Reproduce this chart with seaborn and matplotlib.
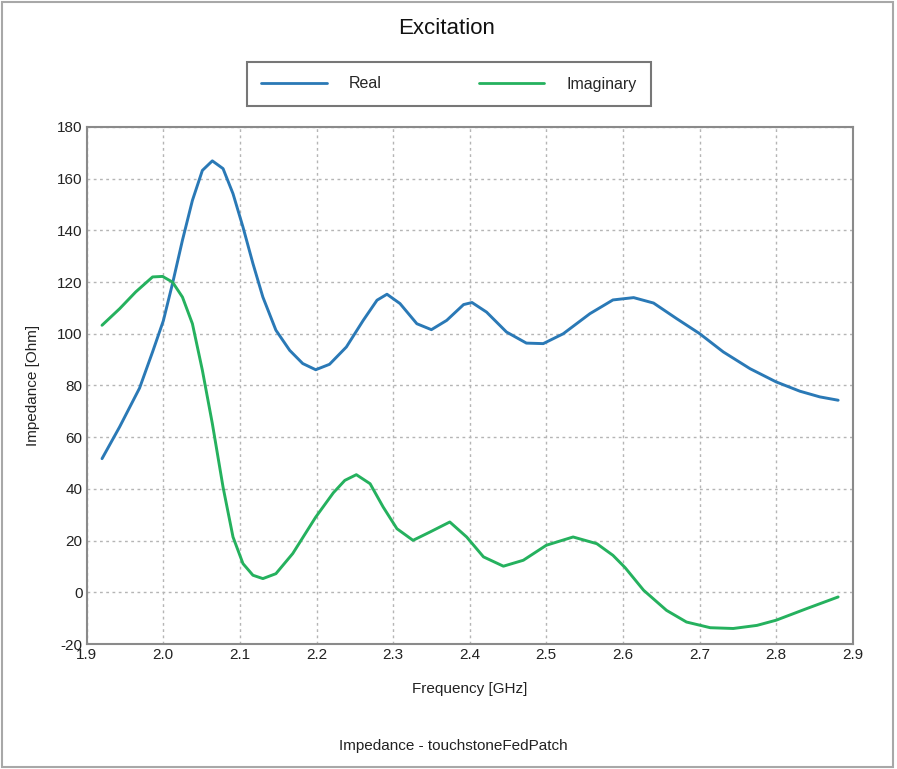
import numpy as np
import pandas as pd
import matplotlib
matplotlib.use("Agg")
import matplotlib.pyplot as plt
from matplotlib.patches import Rectangle
import seaborn as sns

# ---- data ----
freq_real = [1.920, 1.943, 1.969, 1.986, 2.000, 2.012, 2.025, 2.038, 2.051, 2.064, 2.078,
             2.091, 2.104, 2.117, 2.130, 2.147, 2.165, 2.182, 2.199, 2.217, 2.239, 2.261,
             2.279, 2.292, 2.309, 2.331, 2.350, 2.370, 2.392, 2.403, 2.422, 2.448, 2.474,
             2.496, 2.522, 2.557, 2.587, 2.614, 2.640, 2.670, 2.700, 2.731, 2.766, 2.800,
             2.831, 2.857, 2.881]
real = [51.7, 64.0, 79.0, 93.0, 105.0, 119.4, 136.2, 151.6, 163.2, 166.9, 163.9,
        154.2, 141.3, 127.2, 114.2, 101.4, 93.6, 88.5, 86.1, 88.2, 94.9, 105.2,
        113.0, 115.3, 111.7, 103.9, 101.6, 105.2, 111.3, 112.1, 108.4, 100.7, 96.4,
        96.2, 100.0, 107.8, 113.1, 114.0, 111.9, 105.9, 100.1, 93.0, 86.5, 81.4,
        77.8, 75.6, 74.3]

freq_imag = [1.920, 1.943, 1.964, 1.986, 1.999, 2.012, 2.025, 2.038, 2.051, 2.064, 2.078,
             2.091, 2.104, 2.117, 2.130, 2.147, 2.169, 2.199, 2.222, 2.237, 2.252, 2.270,
             2.287, 2.305, 2.326, 2.348, 2.374, 2.396, 2.418, 2.444, 2.470, 2.500, 2.535,
             2.566, 2.587, 2.603, 2.627, 2.657, 2.683, 2.714, 2.744, 2.775, 2.800, 2.840,
             2.881]
imag = [103.3, 109.7, 116.2, 122.0, 122.2, 120.0, 114.2, 103.9, 85.9, 65.3, 40.7,
        21.4, 11.1, 6.6, 5.3, 7.2, 15.0, 29.1, 38.5, 43.3, 45.5, 42.0,
        33.0, 24.6, 20.1, 23.3, 27.2, 21.4, 13.7, 10.1, 12.4, 18.2, 21.4,
        18.8, 14.3, 9.5, 0.8, -7.0, -11.5, -13.7, -14.0, -12.8, -10.8, -6.3,
        -1.8]

series_names = ["Real", "Imaginary"]
x_ticks = [1.9, 2.0, 2.1, 2.2, 2.3, 2.4, 2.5, 2.6, 2.7, 2.8, 2.9]
y_ticks = [-20, 0, 20, 40, 60, 80, 100, 120, 140, 160, 180]

df = pd.concat([
    pd.DataFrame({"Frequency": freq_real, "Impedance": real, "Series": series_names[0]}),
    pd.DataFrame({"Frequency": freq_imag, "Impedance": imag, "Series": series_names[1]}),
], ignore_index=True)

sns.set_style("white")
plt.rcParams["font.family"] = ["Liberation Sans", "DejaVu Sans"]

fig = plt.figure(figsize=(8.97, 7.69), dpi=100)
ax = fig.add_axes([86.7 / 897, 1 - 644 / 769, (852.7 - 86.7) / 897, (644 - 127) / 769])

palette = {"Real": "#2a79b6", "Imaginary": "#25b15e"}
sns.lineplot(data=df, x="Frequency", y="Impedance", hue="Series", palette=palette,
             linewidth=2.1, ax=ax, sort=False, estimator=None, legend=True)
for ln in ax.get_lines():
    ln.set_solid_joinstyle("round")
    ln.set_solid_capstyle("round")

ax.set_xlim(1.9, 2.9)
ax.set_ylim(-20, 180)
ax.set_xticks(x_ticks)
ax.set_xticklabels([f"{v:.1f}" for v in x_ticks])
ax.set_yticks(y_ticks)
ax.set_yticklabels([str(v) for v in y_ticks])
ax.tick_params(axis="both", length=0, labelsize=11, colors="#222222", pad=3)
ax.grid(True, color="#b5b5b5", linestyle=(0, (2, 2.5)), linewidth=1.0)
for s in ax.spines.values():
    s.set_color("#8a8a8a")
    s.set_linewidth(1.5)

ax.set_xlabel("Frequency [GHz]", fontsize=11, color="#222222", labelpad=14)
ax.set_ylabel("Impedance [Ohm]", fontsize=11, color="#222222", labelpad=12)

# legend in a box above the axes
handles, labels = ax.get_legend_handles_labels()
ax.legend_.remove()
leg = fig.legend(handles, labels, loc="center",
                 bbox_to_anchor=(247 / 897, 1 - 108 / 769, 404 / 897, 48 / 769),
                 mode="expand", ncol=2, frameon=True, fancybox=False, fontsize=11.5,
                 handlelength=4.1, columnspacing=4.6, handletextpad=1.4, borderpad=0.9,
                 borderaxespad=0)
leg.get_frame().set_edgecolor("#555555")
leg.get_frame().set_linewidth(1.5)
for line in leg.get_lines():
    line.set_linewidth(2.0)

fig.text(447 / 897, 1 - 28 / 769, "Excitation", ha="center", va="center", fontsize=16,
         color="#111111")
fig.text(453 / 897, 1 - 746 / 769, "Impedance - touchstoneFedPatch", ha="center",
         va="center", fontsize=11, color="#222222")

fig.patches.append(Rectangle((0.002, 0.003), 0.994, 0.994, transform=fig.transFigure,
                             fill=False, edgecolor="#a8a8a8", linewidth=1.5))

fig.savefig("out.png", dpi=100)
